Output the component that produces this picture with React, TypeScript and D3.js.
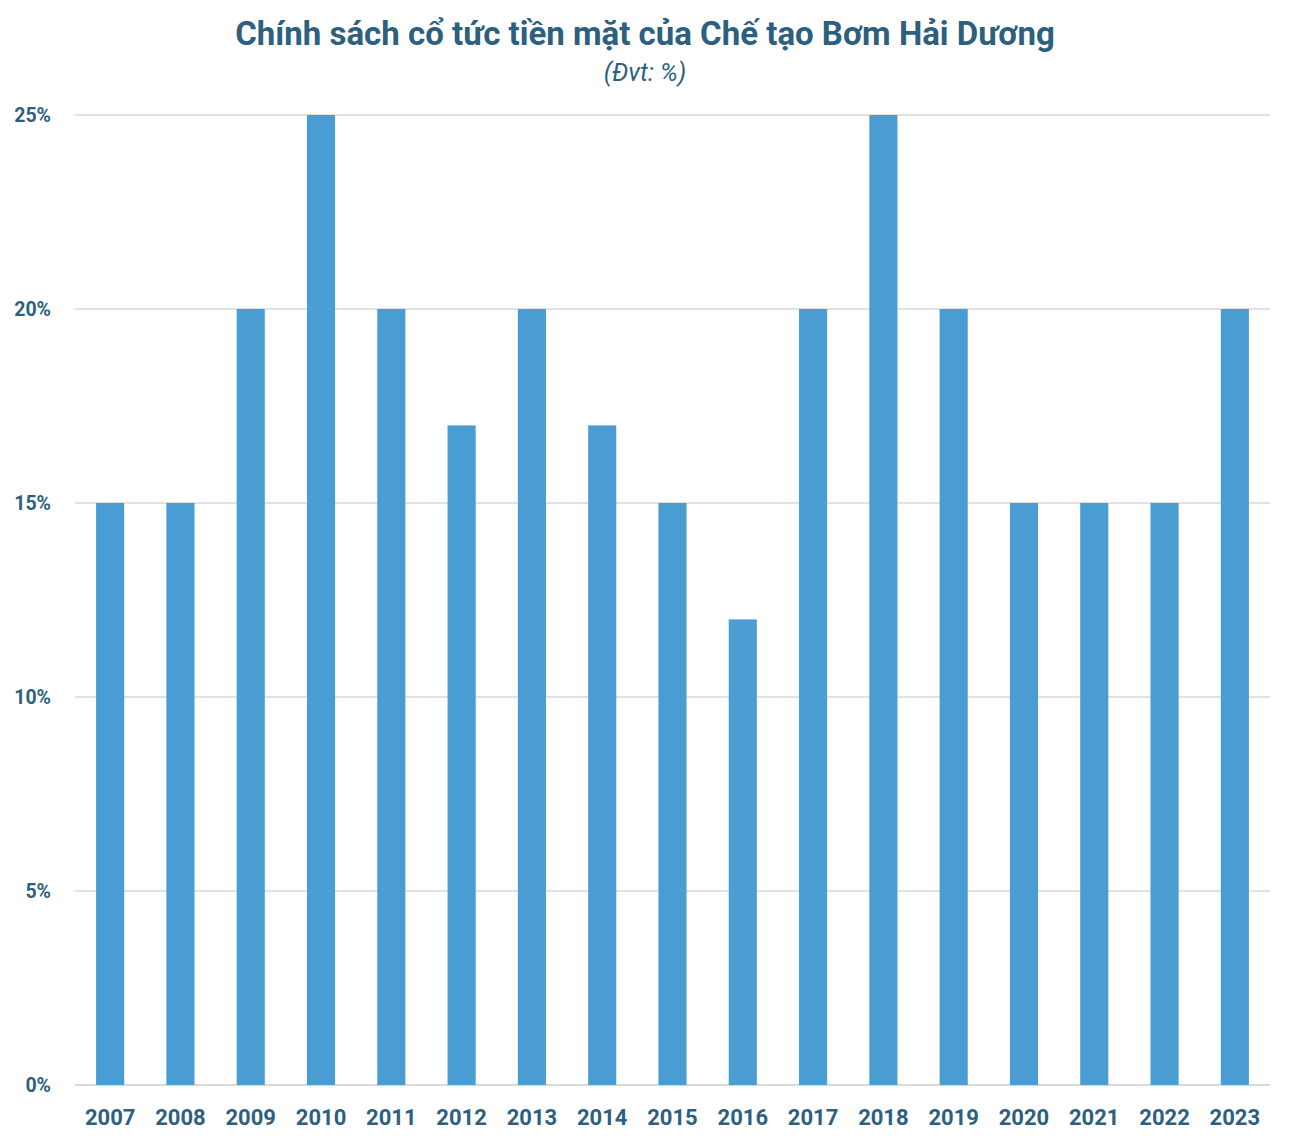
import * as d3 from 'd3'

const years = ['2007', '2008', '2009', '2010', '2011', '2012', '2013', '2014', '2015', '2016', '2017', '2018', '2019', '2020', '2021', '2022', '2023']
const dividend = [15, 15, 20, 25, 20, 17, 20, 17, 15, 12, 20, 25, 20, 15, 15, 15, 20]
const yTicks = [0, 5, 10, 15, 20, 25]

const title = 'Chính sách cổ tức tiền mặt của Chế tạo Bơm Hải Dương'
const subtitle = '(Đvt: %)'

const W = 1290
const H = 1144
const textColor = '#2d5f7f'
const barColor = '#4a9dd2'
const font = "Roboto, 'Liberation Sans', sans-serif"

export default function App() {
  const margin = { top: 115, right: 20, bottom: 59, left: 75 }
  const x = d3.scaleBand().domain(years).range([margin.left, W - margin.right]).paddingInner(0.6).paddingOuter(0.3)
  const y = d3.scaleLinear().domain([0, 25]).range([H - margin.bottom, margin.top])

  return (
    <svg width={W} height={H} style={{ position: 'absolute', left: 0, top: 0, background: '#fff' }}>
      <text x={645} y={45} textAnchor="middle" fontFamily={font} fontWeight="bold" fontSize={33} fill={textColor}>
        {title}
      </text>
      <text x={645} y={81} textAnchor="middle" fontFamily={font} fontStyle="italic" fontSize={25} fill={textColor}>
        {subtitle}
      </text>
      {yTicks.map(t => (
        <g key={t}>
          <line x1={margin.left} x2={W - margin.right} y1={y(t)} y2={y(t)} stroke="#d9d9d9" strokeWidth={t === 0 ? 2 : 1.3} />
          <text x={51} y={y(t)} dy="0.35em" textAnchor="end" fontFamily={font} fontWeight="bold" fontSize={19.5} fill={textColor}>
            {t}%
          </text>
        </g>
      ))}
      {years.map((yr, i) => (
        <rect key={yr} x={x(yr)} y={y(dividend[i])} width={x.bandwidth()} height={y(0) - y(dividend[i])} fill={barColor} />
      ))}
      {years.map(yr => (
        <text key={yr} x={(x(yr) ?? 0) + x.bandwidth() / 2} y={1117} dy="0.35em" textAnchor="middle" fontFamily={font} fontWeight="bold" fontSize={22} fill={textColor}>
          {yr}
        </text>
      ))}
    </svg>
  )
}
